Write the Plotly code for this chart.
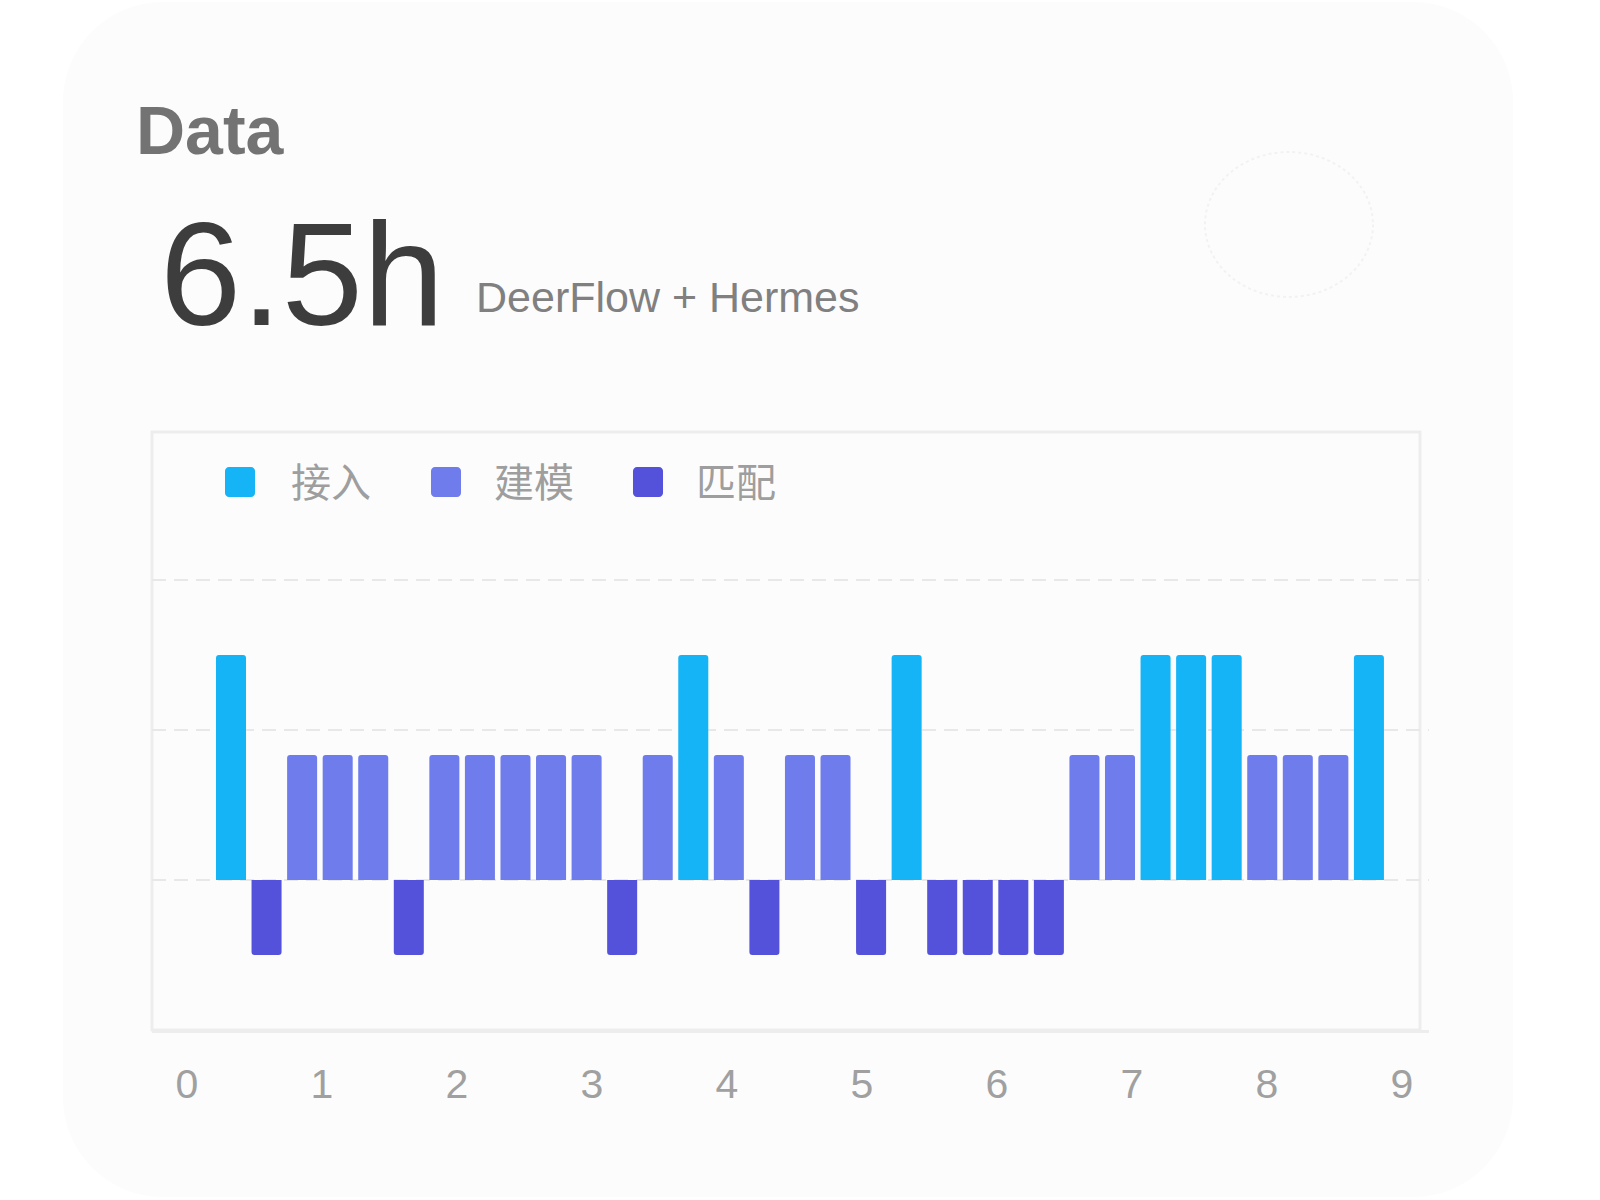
import plotly.graph_objects as go

# ---------------- data ----------------
title_text = "Data"
headline_value = "6.5h"
headline_caption = "DeerFlow + Hermes"

series_names = ["接入", "建模", "匹配"]
series_colors = ["#14B4F6", "#6F7CEB", "#5452DA"]

slot_index = list(range(33))
slot_series = [
    "接入", "匹配", "建模", "建模", "建模", "匹配", "建模", "建模", "建模", "建模",
    "建模", "匹配", "建模", "接入", "建模", "匹配", "建模", "建模", "匹配", "接入",
    "匹配", "匹配", "匹配", "匹配", "建模", "建模", "接入", "接入", "接入", "建模",
    "建模", "建模", "接入",
]
slot_values = [
    4.5, -1.5, 2.5, 2.5, 2.5, -1.5, 2.5, 2.5, 2.5, 2.5,
    2.5, -1.5, 2.5, 4.5, 2.5, -1.5, 2.5, 2.5, -1.5, 4.5,
    -1.5, -1.5, -1.5, -1.5, 2.5, 2.5, 4.5, 4.5, 4.5, 2.5,
    2.5, 2.5, 4.5,
]
x_tick_values = [0, 1, 2, 3, 4, 5, 6, 7, 8, 9]
x_tick_labels = ["0", "1", "2", "3", "4", "5", "6", "7", "8", "9"]
y_grid_values = [0, 3, 6]

# ---------------- layout helpers ----------------
W, H = 1600, 1200
ML, MR, MT, MB = 152, 171, 430, 170
PW, PH = W - ML - MR, H - MT - MB


def px(x):
    return (x - ML) / PW


def py(y):
    return (H - MB - y) / PH


def rrect_path(x0, y0, x1, y1, r):
    k = 0.5523 * r
    pts = [
        ("M", [(x0 + r, y0)]),
        ("L", [(x1 - r, y0)]),
        ("C", [(x1 - r + k, y0), (x1, y0 + r - k), (x1, y0 + r)]),
        ("L", [(x1, y1 - r)]),
        ("C", [(x1, y1 - r + k), (x1 - r + k, y1), (x1 - r, y1)]),
        ("L", [(x0 + r, y1)]),
        ("C", [(x0 + r - k, y1), (x0, y1 - r + k), (x0, y1 - r)]),
        ("L", [(x0, y0 + r)]),
        ("C", [(x0, y0 + r - k), (x0 + r - k, y0), (x0 + r, y0)]),
    ]
    s = ""
    for cmd, ps in pts:
        s += cmd + " ".join(f"{px(a):.5f},{py(b):.5f}" for a, b in ps) + " "
    return s + "Z"


fig = go.Figure()

for name, color in zip(series_names, series_colors):
    xs = [i for i, s in zip(slot_index, slot_series) if s == name]
    ys = [v for v, s in zip(slot_values, slot_series) if s == name]
    fig.add_trace(go.Bar(
        x=xs, y=ys, name=name, marker=dict(color=color, cornerradius=3, line=dict(width=0)),
        showlegend=False, hoverinfo="skip",
    ))

# invisible trace carrying the 0..9 time axis
fig.add_trace(go.Scatter(
    x=x_tick_values, y=[0.5] * len(x_tick_values), xaxis="x2", yaxis="y2",
    mode="markers", marker=dict(opacity=0), showlegend=False, hoverinfo="skip",
))

shapes = []
# card background
shapes.append(dict(type="path", xref="paper", yref="paper", layer="below",
                   path=rrect_path(63, 2, 1513, 1197, 100),
                   fillcolor="#fcfcfc", line=dict(width=0)))
# faint dotted circle decoration
shapes.append(dict(type="circle", xref="paper", yref="paper", layer="below",
                   x0=px(1205), x1=px(1373), y0=py(297), y1=py(152),
                   line=dict(color="#f2f2f2", width=2, dash="dot")))
# plot frame
shapes.append(dict(type="rect", xref="paper", yref="paper", layer="below",
                   x0=px(152), x1=px(1420), y0=py(1030), y1=py(432),
                   line=dict(color="#ededed", width=3)))

annotations = []
annotations.append(dict(text=title_text, xref="paper", yref="paper",
                        x=px(134), y=py(130.5), xanchor="left", yanchor="middle",
                        showarrow=False,
                        font=dict(family="Liberation Sans", size=68, color="#737373", weight="bold")))
annotations.append(dict(text=headline_value, xref="paper", yref="paper",
                        x=px(158), y=py(274.5), xanchor="left", yanchor="middle",
                        showarrow=False,
                        font=dict(family="Liberation Sans", size=146, color="#3d3d3d")))
annotations.append(dict(text=headline_caption, xref="paper", yref="paper",
                        x=px(474), y=py(297.5), xanchor="left", yanchor="middle",
                        showarrow=False,
                        font=dict(family="Liberation Sans", size=43, color="#808080")))

# custom legend
legend_marker_x = [225, 431, 633]
legend_text_x = [289, 492, 694]
for name, color, mx, tx in zip(series_names, series_colors, legend_marker_x, legend_text_x):
    shapes.append(dict(type="path", xref="paper", yref="paper", layer="above",
                       path=rrect_path(mx, 467, mx + 30, 497, 4),
                       fillcolor=color, line=dict(width=0)))
    annotations.append(dict(text=name, xref="paper", yref="paper",
                            x=px(tx), y=py(480), xanchor="left", yanchor="middle",
                            showarrow=False,
                            font=dict(family="Noto Sans CJK SC", size=40, color="#9e9e9e")))

step = 35.56
first_center = 231
fig.update_layout(
    width=W, height=H,
    margin=dict(l=ML, r=MR, t=MT, b=MB, pad=0),
    paper_bgcolor="#ffffff",
    plot_bgcolor="rgba(0,0,0,0)",
    barmode="overlay",
    bargap=0.156,
    showlegend=False,
    shapes=shapes,
    annotations=annotations,
    xaxis=dict(
        range=[-(first_center - ML) / step, (ML + PW - first_center) / step],
        showgrid=False, zeroline=False, showticklabels=False, ticks="",
        showline=True, linecolor="#ededed", linewidth=3,
        fixedrange=True,
    ),
    yaxis=dict(
        range=[-3, 9], tickvals=y_grid_values, showticklabels=False, ticks="",
        showgrid=True, gridcolor="#e8e8e8", gridwidth=2, griddash="14px,8px",
        zeroline=False, showline=False, fixedrange=True,
    ),
    xaxis2=dict(
        domain=[px(187), px(1402)], anchor="y2", range=[0, 9],
        tickvals=x_tick_values, ticktext=x_tick_labels,
        showgrid=False, zeroline=False, showline=False, ticks="",
        ticklabelstandoff=26,
        tickfont=dict(family="Liberation Sans", size=41, color="#a0a0a0"),
        fixedrange=True,
    ),
    yaxis2=dict(domain=[0, 1], anchor="x2", range=[0, 1], visible=False, fixedrange=True),
)

fig.write_html("out.html")
